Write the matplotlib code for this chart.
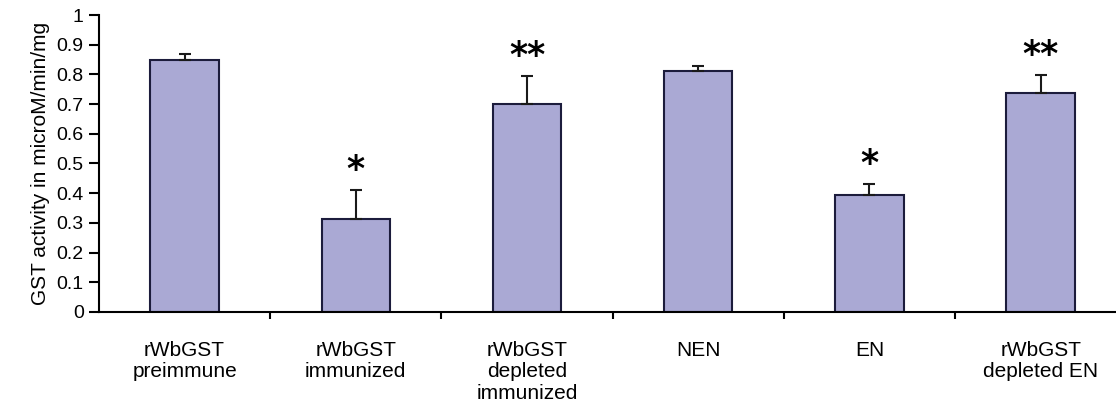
import numpy as np
from matplotlib import pyplot as plt

plt.rcParams['font.family'] = ['Liberation Sans', 'DejaVu Sans']

# data
groups = ['rWbGST\npreimmune', 'rWbGST\nimmunized', 'rWbGST\ndepleted\nimmunized',
          'NEN', 'EN', 'rWbGST\ndepleted EN']
activity = [0.850, 0.314, 0.702, 0.810, 0.395, 0.737]
errors = [0.020, 0.098, 0.094, 0.018, 0.037, 0.062]
stars = ['', '*', '**', '', '*', '**']

BAR_COLOR = '#aaa9d4'
EDGE_COLOR = '#1c1c3c'


def draw_chart():
    fig = plt.figure(figsize=(11.16, 4.11), dpi=100)
    ax = fig.add_axes([0.0887, 0.2409, 0.9113, 0.7226])
    x = np.arange(len(groups))
    ax.bar(x, activity, width=0.4, color=BAR_COLOR, edgecolor=EDGE_COLOR, linewidth=1.5, zorder=2)
    ax.errorbar(x, activity, yerr=[np.zeros(len(errors)), errors], fmt='none',
                ecolor='#1a1a1a', elinewidth=1.5, capsize=4, capthick=1.5, zorder=3)
    for xi, val, err, s in zip(x, activity, errors, stars):
        if s:
            ax.text(xi, val + err + 0.066, s, ha='center', va='center',
                    fontsize=25, fontweight='bold', family='DejaVu Sans')

    ax.set_xlim(-0.5, 5.44)
    ax.set_ylim(0, 1)
    ax.set_yticks(np.arange(0, 1.01, 0.1))
    ax.set_yticklabels(['0'] + ['%.1f' % v for v in np.arange(0.1, 0.95, 0.1)] + ['1'])
    ax.set_xticks(x)
    ax.set_xticklabels(groups, fontsize=15, linespacing=1.15)
    ax.set_xticks(np.arange(0.5, 5, 1), minor=True)
    ax.tick_params(axis='x', which='major', length=0, pad=21)
    ax.tick_params(axis='x', which='minor', length=5, width=1.5, direction='out')
    ax.tick_params(axis='y', labelsize=14, length=7, width=1.5, direction='out', pad=4)
    for lab in ax.get_xticklabels():
        lab.set_verticalalignment('top')
    ax.spines['top'].set_visible(False)
    ax.spines['right'].set_visible(False)
    ax.spines['left'].set_linewidth(1.5)
    ax.spines['bottom'].set_linewidth(1.5)
    ax.set_ylabel('GST activity in microM/min/mg', fontsize=15, labelpad=5)
    fig.savefig('out.png', dpi=100)


draw_chart()
